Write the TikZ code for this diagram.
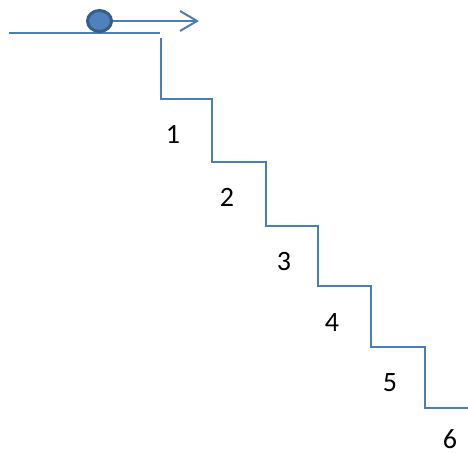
\documentclass[tikz,border=0pt]{standalone}
\usepackage{fontspec}
\setmainfont{Carlito}
\usetikzlibrary{arrows.meta,shapes.geometric}
\definecolor{stairblue}{HTML}{4A7EBB}
\definecolor{balldark}{HTML}{385D8A}
\definecolor{ballfill}{HTML}{4F81BD}
\begin{document}
\begin{tikzpicture}[x=1pt,y=-1pt,
  stair/.style={draw=stairblue,line width=2pt},
  lbl/.style={font=\fontsize{28}{32}\selectfont,text=black,inner sep=0pt}]
\useasboundingbox (0,0) rectangle (468,452);
% floor
\coordinate (f0) at (9,33);
\coordinate (f1) at (160,33);
\draw[stair] (f0) -- (f1);
% staircase
\coordinate (s0) at (161,38);
\coordinate (s1) at (161,99);
\coordinate (s2) at (212,99);
\coordinate (s3) at (212,162);
\coordinate (s4) at (266,162);
\coordinate (s5) at (266,226);
\coordinate (s6) at (318,226);
\coordinate (s7) at (318,286);
\coordinate (s8) at (371,286);
\coordinate (s9) at (371,347);
\coordinate (s10) at (425,347);
\coordinate (s11) at (425,408);
\coordinate (s12) at (468,408);
\draw[stair] (s0) -- (s1) -- (s2) -- (s3) -- (s4) -- (s5) -- (s6) -- (s7) -- (s8) -- (s9) -- (s10) -- (s11) -- (s12);
% ball and arrow
\node[ellipse,draw=balldark,fill=ballfill,line width=3pt,minimum width=24pt,minimum height=21pt,inner sep=0pt] (ball) at (99.5,21) {};
\coordinate (tip) at (199,21);
\draw[stair,-{Straight Barb[length=17pt,width=20pt,line width=2pt]}] (ball.east) -- (tip);
% labels
\node[lbl] (l1) at (173,134) {1};
\node[lbl] (l2) at (227,197) {2};
\node[lbl] (l3) at (284,262) {3};
\node[lbl] (l4) at (332,323) {4};
\node[lbl] (l5) at (390,383) {5};
\node[lbl] (l6) at (450,439.5) {6};
\end{tikzpicture}
\end{document}
